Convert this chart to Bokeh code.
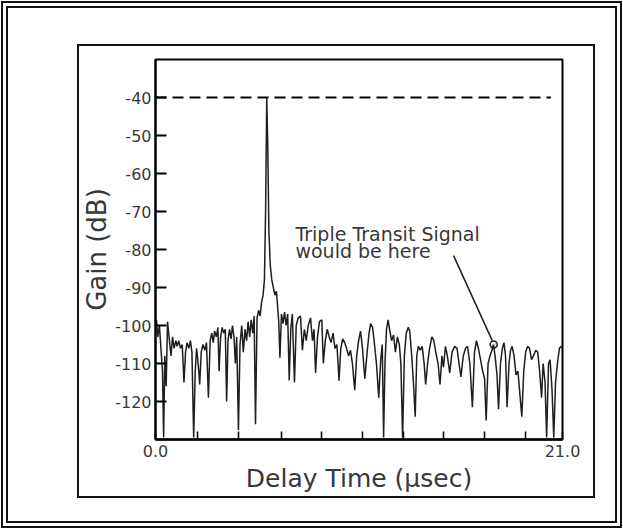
import numpy as np
from bokeh.plotting import figure
from bokeh.layouts import column
from bokeh.models import FixedTicker
from bokeh.core.properties import value
from bokeh.embed import file_html
from bokeh.resources import INLINE

# ---------------- data ----------------
delay_us = [
    0.00, 0.05, 0.12, 0.20, 0.28, 0.36, 0.42, 0.48, 0.55, 0.62, 0.70, 0.80, 0.88, 0.96,
    1.05, 1.12, 1.20, 1.29, 1.38, 1.47, 1.55, 1.63, 1.72, 1.80, 1.88, 1.97, 2.05, 2.12,
    2.20, 2.28, 2.36, 2.45, 2.55, 2.63, 2.73, 2.82, 2.90, 2.98, 3.05, 3.14, 3.22, 3.28,
    3.36, 3.44, 3.52, 3.60, 3.67, 3.74, 3.82, 3.90, 3.97, 4.05, 4.12, 4.19, 4.28, 4.36,
    4.45, 4.53, 4.62, 4.70, 4.78, 4.86, 4.94, 5.02, 5.09, 5.16, 5.24, 5.32, 5.40, 5.47,
    5.55, 5.62, 5.68, 5.74, 5.79, 5.85, 5.92, 6.00, 6.08, 6.16, 6.24, 6.30, 6.36, 6.42,
    6.50, 6.58, 6.66, 6.74, 6.82, 6.90, 6.98, 7.06, 7.17, 7.26, 7.36, 7.48, 7.58, 7.68,
    7.78, 7.88, 8.00, 8.10, 8.18, 8.26, 8.36, 8.46, 8.58, 8.66, 8.76, 8.86, 8.96, 9.06,
    9.16, 9.26, 9.36, 9.47, 9.56, 9.66, 9.76, 9.86, 9.96, 10.06, 10.16, 10.28, 10.38,
    10.48, 10.58, 10.68, 10.80, 10.92, 11.02, 11.10, 11.20, 11.30, 11.40, 11.52, 11.62,
    11.70, 11.77, 11.84, 11.92, 12.00, 12.08, 12.18, 12.28, 12.38, 12.48, 12.58, 12.66,
    12.75, 12.84, 12.94, 13.04, 13.12, 13.22, 13.32, 13.40, 13.48, 13.56, 13.66, 13.76,
    13.86, 13.94, 14.04, 14.14, 14.26, 14.36, 14.46, 14.58, 14.68, 14.78, 14.86, 14.96,
    15.06, 15.18, 15.30, 15.44, 15.56, 15.66, 15.76, 15.88, 16.00, 16.10, 16.22, 16.35,
    16.46, 16.56, 16.66, 16.77, 16.88, 16.98, 17.06, 17.16, 17.26, 17.36, 17.44, 17.52,
    17.62, 17.70, 17.80, 17.90, 17.98, 18.06, 18.14, 18.24, 18.32, 18.40, 18.50, 18.60,
    18.70, 18.80, 18.90, 19.00, 19.10, 19.20, 19.30, 19.40, 19.50, 19.62, 19.72, 19.82,
    19.92, 20.00, 20.10, 20.18, 20.28, 20.36, 20.46, 20.55, 20.64, 20.74, 20.84, 20.94,
    21.00,
]
gain_db = [
    -101, -98.5, -103, -100, -106, -112, -129.5, -108, -116, -99, -103, -108, -103, -106,
    -104, -105.5, -104, -106, -105, -115, -107, -104.5, -106, -104, -107, -129.5, -112, -106,
    -110, -115.5, -107, -105, -106.5, -104.5, -119, -104, -102, -104.5, -101.5, -103, -100.5, -112,
    -103, -100.5, -102, -101, -120, -104, -101, -103.5, -100, -103, -110, -103, -127.5, -105,
    -100, -107, -101, -104, -99, -103, -98.5, -102, -97.5, -126, -98, -96, -97.5, -94,
    -92, -88, -70, -40, -52, -75, -84, -88, -90, -92, -91, -95, -99, -108.5,
    -97, -99.5, -96.5, -100, -97, -114.5, -101, -97, -115, -100, -98, -97.5, -106.5, -101,
    -104, -100, -98, -104, -101, -112.5, -103, -99, -98.5, -110, -104, -101, -103, -104.5,
    -102, -106, -105, -114.5, -106, -103.5, -104.5, -106, -108, -106.5, -110, -117, -108,
    -104, -101.5, -106, -114, -107, -102, -99.5, -100.5, -105, -110, -119, -109,
    -105, -129.5, -110, -101, -98.5, -101, -104, -102.5, -107, -103, -105, -110,
    -129.5, -108, -102, -100.5, -101.5, -108, -116, -124, -108, -105.5, -106.5, -105.5,
    -110, -115.5, -110, -106, -103, -104, -107, -110, -115.5, -108, -111, -105.5,
    -108, -112.5, -107, -105.5, -106, -110, -113.5, -108, -106, -105.5, -110, -121.5,
    -107, -104, -106, -109, -112, -114, -125, -110, -108, -106.5, -105, -108,
    -113, -122, -110, -106, -104.5, -108, -121.5, -110, -106.5, -105.5, -108, -113,
    -112, -118, -124, -112, -107, -105.5, -106, -109, -108, -106.5, -107, -112,
    -119, -110, -115, -129.5, -110, -109, -117, -129.5, -115, -110, -106, -105.5,
    -106,
]

y_ticks_db = [-120, -110, -100, -90, -80, -70, -60, -50, -40]
y_tick_labels = ["-120", "-110", "-100", "-90", "-80", "-70", "-60", "-50", "-40"]
# tick marks as they sit on the scanned axis
x_ticks_us = [0.0, 2.15, 4.3, 6.52, 8.57, 10.67, 12.8, 14.88, 17.0, 19.1, 21.0]
x_tick_labels = ["0.0", "", "", "", "", "", "", "", "", "", "21.0"]

ref_level_db = -40
ref_line_span_us = [0.0, 20.4]

note_lines = ["Triple Transit Signal", "would be here"]
note_x_us = 7.22
note_baselines_db = [-75.9, -80.3]
pointer_x_us = [15.38, 17.37]
pointer_y_db = [-81.6, -103.9]
pointer_end_us = 17.45
pointer_end_db = -105.0

FONT = "DejaVu Sans"
INK = "#1e1e1e"
TEXT = "#383838"

# ---------------- figure ----------------
p = figure(
    width=514, height=450,
    x_range=(0, 21), y_range=(-130, -30),
    output_backend="svg", toolbar_location=None,
    min_border_left=76, min_border_right=31,
    min_border_top=13, min_border_bottom=57,
    background_fill_color="white", border_fill_color="white",
)
p.margin = (46, 0, 0, 79)
p.styles = {"outline": "2px solid #111"}
p.grid.visible = False
p.outline_line_color = "black"
p.outline_line_width = 2
p.outline_line_alpha = 1.0

# x axis
p.xaxis.ticker = FixedTicker(ticks=x_ticks_us)
p.xaxis.major_label_overrides = {t: s for t, s in zip(x_ticks_us, x_tick_labels)}
p.xaxis.major_tick_in = 8
p.xaxis.major_tick_out = 0
p.xaxis.major_tick_line_width = 1.5
p.xaxis.minor_tick_line_color = None
p.xaxis.axis_line_width = 2.5
p.xaxis.major_label_standoff = 5
p.xaxis.major_label_text_font = FONT
p.xaxis.major_label_text_font_size = "16px"
p.xaxis.major_label_text_color = TEXT
p.xaxis.axis_label = "Delay Time (µsec)"
p.xaxis.axis_label_text_font = FONT
p.xaxis.axis_label_text_font_size = "25px"
p.xaxis.axis_label_text_font_style = "normal"
p.xaxis.axis_label_text_color = TEXT
p.xaxis.axis_label_standoff = 4

# y axis
p.yaxis.ticker = FixedTicker(ticks=y_ticks_db)
p.yaxis.major_label_overrides = {t: s for t, s in zip(y_ticks_db, y_tick_labels)}
p.yaxis.major_tick_in = 11
p.yaxis.major_tick_out = 0
p.yaxis.major_tick_line_width = 2
p.yaxis.minor_tick_line_color = None
p.yaxis.axis_line_width = 2
p.yaxis.major_label_standoff = 4
p.yaxis.major_label_text_font = FONT
p.yaxis.major_label_text_font_size = "16px"
p.yaxis.major_label_text_color = TEXT
p.yaxis.axis_label = "Gain (dB)"
p.yaxis.axis_label_text_font = FONT
p.yaxis.axis_label_text_font_size = "26px"
p.yaxis.axis_label_text_font_style = "normal"
p.yaxis.axis_label_text_color = TEXT
p.yaxis.axis_label_standoff = 0

# reference level (dashed)
p.line(ref_line_span_us, [ref_level_db, ref_level_db], line_color="black",
       line_width=1.8, line_dash="11 6")

# measured response
p.line(delay_us, gain_db, line_color=INK, line_width=1.5)

# annotation
for txt, yb in zip(note_lines, note_baselines_db):
    p.text(x=[note_x_us], y=[yb], text=[txt], text_font=value(FONT),
           text_font_size="19px", text_color=TEXT, text_align="left",
           text_baseline="alphabetic")
p.line(pointer_x_us, pointer_y_db, line_color=INK, line_width=1.5)
p.scatter([pointer_end_us], [pointer_end_db], marker="circle", size=7,
          fill_color=None, line_color=INK, line_width=1.5)

root = column(p, width=623, height=529,
              styles={"outline": "7px double #111", "outline-offset": "-8px"})

open("out.html", "w").write(file_html(root, INLINE))
